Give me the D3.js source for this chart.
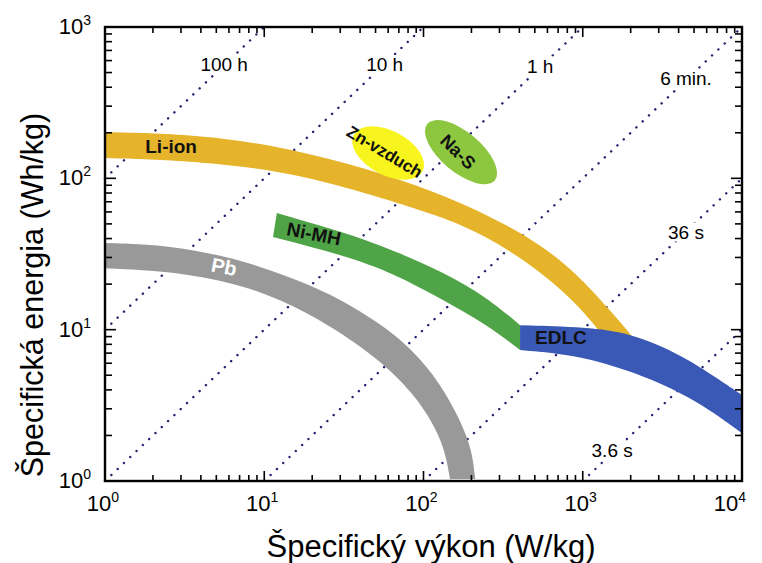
<!DOCTYPE html>
<html>
<head>
<meta charset="utf-8">
<script src="https://cdn.jsdelivr.net/npm/d3@7"></script>
<style>
  body { margin: 0; background: #fff; }
  svg { font-family: "Liberation Sans", Arial, sans-serif; }
</style>
</head>
<body>
<script>
'use strict';

// axis decades
const xMajor = [1, 10, 100, 1000, 10000];
const yMajor = [1, 10, 100, 1000];

// constant discharge time lines (hours) and their labels
const hours = [100, 10, 1, 0.1, 0.01, 0.001];
const hourLabels = ['100 h', '10 h', '1 h', '6 min.', '36 s', '3.6 s'];

// bands: [W/kg, Wh/kg] points
const pbUpper = [[1, 37.4], [2.56, 36.2], [6.55, 29.7], [12.6, 23.5], [25.9, 17.5], [53.3, 11.05], [85.9, 7.33], [127, 4.44], [170, 2.53], [202, 1.6], [211, 1.03]];
const pbLower = [[1, 25.5], [2.56, 24.4], [6.55, 20.3], [12.6, 15.9], [25.9, 10.7], [53.3, 6.3], [85.9, 3.81], [115, 2.41], [136.5, 1.6], [146.7, 1.03]];

const liUpper = [[1, 202], [4, 196], [17, 154], [95, 92], [400, 46], [830, 26], [1280, 16], [1980, 9.5], [2150, 8.4]];
const liLower = [[1, 136], [4, 130], [17, 108], [95, 62], [170, 50], [302, 36.8], [516, 25], [830, 16.4], [1230, 10.4], [1380, 8.4]];

const niUpper = [[12, 59], [31.2, 44.2], [64.3, 33.6], [132.6, 24], [250, 16.4], [404, 10.7]];
const niLower = [[11.35, 40.9], [31.2, 31.1], [64.3, 23.7], [132.6, 15.7], [250, 10.8], [404, 7.33]];

const edlcUpper = [[404, 10.7], [1060, 10.4], [1980, 9.5], [4080, 7.0], [10000, 3.7]];
const edlcLower = [[404, 7.33], [960, 6.8], [2530, 4.9], [5210, 3.4], [10000, 2.07]];

// small technologies drawn as ellipses: centre [W/kg, Wh/kg]
const znAir = [60, 147];
const naS = [172, 149];

(function() {

  const width = 762, height = 563;
  const svg = d3.select('body').append('svg')
    .attr('width', width)
    .attr('height', height);

  const mLeft = 105, mRight = 742, mTop = 27, mBottom = 481;

  const x = d3.scaleLog().domain([1, 1e4]).range([mLeft, mRight]);
  const y = d3.scaleLog().domain([1, 1e3]).range([mBottom, mTop]);

  // dotted time lines
  const lineGen = d3.line().x(d => x(d[0])).y(d => y(d[1]));
  hours.forEach(t => {
    let p0 = Math.max(1, 1 / t);
    let p1 = Math.min(1e4, 1e3 / t);
    svg.append('path')
      .attr('d', lineGen([[p0, t * p0], [p1, t * p1]]))
      .attr('fill', 'none')
      .attr('stroke', '#23236f')
      .attr('stroke-width', 2.4)
      .attr('stroke-linecap', 'round')
      .attr('stroke-dasharray', '0.1,8.6');
  });

  // time labels, a white box breaks the dotted line behind them
  const hourLabelPos = [[5.6, 510], [57, 510], [540, 500], [4450, 414], [4450, 40], [1530, 1.44]];
  hourLabels.forEach((d, i) => {
    let g = svg.append('g');
    let t = g.append('text')
      .attr('x', x(hourLabelPos[i][0]))
      .attr('y', y(hourLabelPos[i][1]))
      .attr('text-anchor', 'middle')
      .style('font-size', '19px')
      .text(d);
    let bb = t.node().getBBox();
    g.insert('rect', 'text')
      .attr('x', bb.x - 3).attr('y', bb.y + 1)
      .attr('width', bb.width + 6).attr('height', bb.height - 2)
      .attr('fill', '#fff');
  });

  // band drawing
  const bandLine = d3.line()
    .x(d => x(d[0]))
    .y(d => y(d[1]))
    .curve(d3.curveBasis);

  function band(upper, lower, color) {
    let a = bandLine(upper);
    let b = bandLine(lower.slice().reverse());
    svg.append('path')
      .attr('d', a + 'L' + b.slice(1) + 'Z')
      .attr('fill', color);
  }

  band(pbUpper, pbLower, '#999999');
  band(liUpper, liLower, '#e6b42a');
  band(niUpper, niLower, '#4fa447');
  band(edlcUpper, edlcLower, '#3a58b6');

  // ellipses
  function blob(c, rx, ry, angle, color) {
    svg.append('ellipse')
      .attr('cx', 0).attr('cy', 0)
      .attr('rx', rx).attr('ry', ry)
      .attr('transform', 'translate(' + x(c[0]) + ',' + y(c[1]) + ') rotate(' + angle + ')')
      .attr('fill', color);
  }
  blob(znAir, 39, 22, 28, '#f8f51e');
  blob(naS, 44, 20, 40, '#8dc63f');

  // band labels
  function label(txt, px, py, angle, size, color) {
    svg.append('text')
      .attr('transform', 'translate(' + x(px) + ',' + y(py) + ') rotate(' + angle + ')')
      .attr('text-anchor', 'middle')
      .attr('dy', '0.35em')
      .style('font-size', size + 'px')
      .style('font-weight', 'bold')
      .attr('fill', color)
      .text(txt);
  }
  label('Li-ion', 2.6, 162, 0, 19, '#111');
  label('Ni-MH', 20.5, 43, 11, 19, '#111');
  label('Pb', 5.6, 26, 11, 20, '#fff');
  label('EDLC', 730, 8.87, 0, 19, '#111');
  label('Zn-vzduch', 57, 150, 31, 17, '#111');
  label('Na-S', 165, 150, 44, 18, '#111');

  // frame
  svg.append('rect')
    .attr('x', mLeft).attr('y', mTop)
    .attr('width', mRight - mLeft).attr('height', mBottom - mTop)
    .attr('fill', 'none')
    .attr('stroke', '#000')
    .attr('stroke-width', 2.4);

  // ticks on all four sides, pointing inward
  const xTicks = x.ticks();
  const yTicks = y.ticks();
  const isMajor = v => Math.abs(Math.log10(v) - Math.round(Math.log10(v))) < 1e-9;

  const tickG = svg.append('g').attr('stroke', '#000').attr('stroke-width', 1.6);
  xTicks.forEach(v => {
    let len = isMajor(v) ? 10 : 6;
    tickG.append('line').attr('x1', x(v)).attr('x2', x(v)).attr('y1', mBottom).attr('y2', mBottom - len);
    tickG.append('line').attr('x1', x(v)).attr('x2', x(v)).attr('y1', mTop).attr('y2', mTop + len);
  });
  yTicks.forEach(v => {
    let len = isMajor(v) ? 11 : 7;
    tickG.append('line').attr('y1', y(v)).attr('y2', y(v)).attr('x1', mLeft).attr('x2', mLeft + len);
    tickG.append('line').attr('y1', y(v)).attr('y2', y(v)).attr('x1', mRight).attr('x2', mRight - len);
  });

  // tick labels as 10 with superscript exponent
  function powLabel(sel, v) {
    sel.append('tspan').text('10');
    sel.append('tspan')
      .attr('dy', -9)
      .style('font-size', '14px')
      .text(Math.round(Math.log10(v)));
  }

  xMajor.forEach((v, i) => {
    let t = svg.append('text')
      .attr('x', x(v) + (i === xMajor.length - 1 ? -12 : -2))
      .attr('y', 511)
      .attr('text-anchor', 'middle')
      .style('font-size', '22px');
    powLabel(t, v);
  });

  yMajor.forEach(v => {
    let t = svg.append('text')
      .attr('x', 91)
      .attr('y', y(v) + 7)
      .attr('text-anchor', 'end')
      .style('font-size', '22px');
    powLabel(t, v);
  });

  // axis titles
  svg.append('text')
    .attr('x', 431)
    .attr('y', 557)
    .attr('text-anchor', 'middle')
    .style('font-size', '31px')
    .text('Špecifický výkon (W/kg)');

  svg.append('text')
    .attr('transform', 'translate(43, 295) rotate(-90)')
    .attr('text-anchor', 'middle')
    .style('font-size', '30.5px')
    .text('Špecifická energia (Wh/kg)');

})();
</script>
</body>
</html>
